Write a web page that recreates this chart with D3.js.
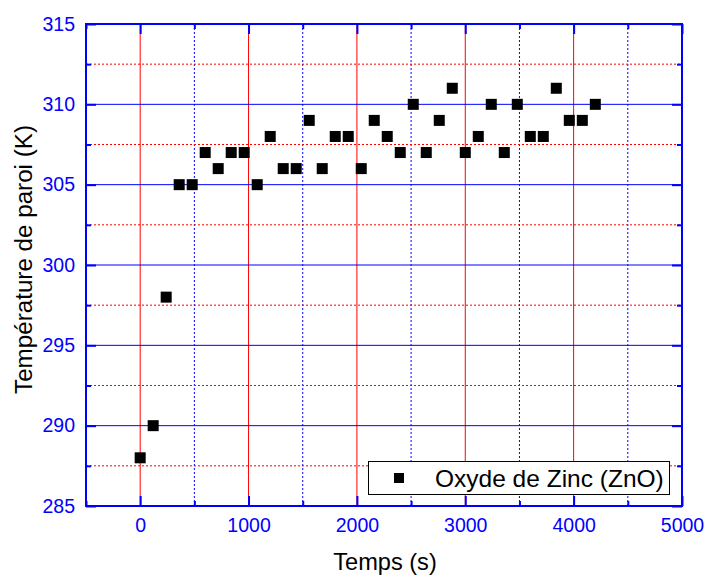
<!DOCTYPE html>
<html>
<head>
<meta charset="utf-8">
<script src="https://cdn.jsdelivr.net/npm/d3@7"></script>
<style>
  html, body { margin: 0; padding: 0; background: #fff; }
  svg { display: block; font-family: "Liberation Sans", Arial, sans-serif; }
</style>
</head>
<body>
<svg id="chart" width="705" height="576"></svg>
<script>
// Wall temperature measurements over time
const times = [0, 120, 240, 360, 480, 600, 720, 840, 960, 1080, 1200, 1320, 1440, 1560, 1680, 1800, 1920, 2040,
               2160, 2280, 2400, 2520, 2640, 2760, 2880, 3000, 3120, 3240, 3360, 3480, 3600, 3720, 3840, 3960, 4080, 4200];
const temperatures = [288, 290, 298, 305, 305, 307, 306, 307, 307, 305, 308, 306, 306, 309, 306, 308, 308, 306,
                      309, 308, 307, 310, 307, 309, 311, 307, 308, 310, 307, 310, 308, 308, 311, 309, 309, 310];
const seriesName = "Oxyde de Zinc (ZnO)";
const xTicks = [0, 1000, 2000, 3000, 4000, 5000];
const xMinorTicks = [-500, 500, 1500, 2500, 3500, 4500];
const yTicks = [285, 290, 295, 300, 305, 310, 315];
const yMinorTicks = [287.5, 292.5, 297.5, 302.5, 307.5, 312.5];

(function () {
  const margin = { left: 86, top: 24, right: 705 - 682, bottom: 576 - 506 };
  const W = 705, H = 576;
  const svg = d3.select("#chart");
  const x = d3.scaleLinear().domain([-500, 5000]).range([margin.left, W - margin.right]);
  const y = d3.scaleLinear().domain([285, 315]).range([H - margin.bottom, margin.top]);
  const axisColor = "#0000ff";
  const dotted = "2,2";

  // grid
  const grid = svg.append("g");
  grid.selectAll(".xmaj").data(xTicks.filter(d => d > -500 && d < 5000)).join("line")
    .attr("x1", d => x(d)).attr("x2", d => x(d)).attr("y1", y(285)).attr("y2", y(315))
    .attr("stroke", "#ff0000").attr("stroke-width", 1);
  grid.selectAll(".xmin").data(xMinorTicks.filter(d => d > -500 && d < 5000)).join("line")
    .attr("x1", d => x(d)).attr("x2", d => x(d)).attr("y1", y(285)).attr("y2", y(315))
    .attr("stroke", "#0000ff").attr("stroke-width", 1).attr("stroke-dasharray", dotted);
  grid.selectAll(".ymaj").data(yTicks.filter(d => d > 285 && d < 315)).join("line")
    .attr("x1", x(-500)).attr("x2", x(5000)).attr("y1", d => y(d)).attr("y2", d => y(d))
    .attr("stroke", "#0000ff").attr("stroke-width", 1);
  grid.selectAll(".ymin").data(yMinorTicks).join("line")
    .attr("x1", x(-500)).attr("x2", x(5000)).attr("y1", d => y(d)).attr("y2", d => y(d))
    .attr("stroke", "#ff0000").attr("stroke-width", 1).attr("stroke-dasharray", dotted);

  // axes (ticks pointing inward on all four sides)
  function styleAxis(g) {
    g.select(".domain").remove();
    g.selectAll("line").attr("stroke", axisColor).attr("stroke-width", 2);
    g.selectAll("text").attr("fill", axisColor).attr("font-size", 19.5)
      .attr("font-family", "Liberation Sans, Arial, sans-serif");
  }
  function addAxis(axis, tx, ty) {
    const g = svg.append("g").attr("transform", `translate(${tx},${ty})`).call(axis);
    styleAxis(g);
    return g;
  }
  addAxis(d3.axisBottom(x).tickValues(xTicks).tickFormat(d3.format("d")).tickSizeInner(-10).tickPadding(12), 0, y(285));
  addAxis(d3.axisBottom(x).tickValues(xMinorTicks).tickFormat("").tickSizeInner(-5), 0, y(285));
  addAxis(d3.axisTop(x).tickValues(xTicks).tickFormat("").tickSizeInner(-10), 0, y(315));
  addAxis(d3.axisTop(x).tickValues(xMinorTicks).tickFormat("").tickSizeInner(-5), 0, y(315));
  addAxis(d3.axisLeft(y).tickValues(yTicks).tickFormat(d3.format("d")).tickSizeInner(-10).tickPadding(11), x(-500), 0);
  addAxis(d3.axisLeft(y).tickValues(yMinorTicks).tickFormat("").tickSizeInner(-5), x(-500), 0);
  addAxis(d3.axisRight(y).tickValues(yTicks).tickFormat("").tickSizeInner(-10), x(5000), 0);
  addAxis(d3.axisRight(y).tickValues(yMinorTicks).tickFormat("").tickSizeInner(-5), x(5000), 0);

  // frame
  svg.append("rect").attr("x", x(-500)).attr("y", y(315))
    .attr("width", x(5000) - x(-500)).attr("height", y(285) - y(315))
    .attr("fill", "none").attr("stroke", axisColor).attr("stroke-width", 2);

  // data markers
  const sz = 11;
  svg.append("g").selectAll("rect").data(times.map((t, i) => [t, temperatures[i]])).join("rect")
    .attr("x", d => x(d[0]) - sz / 2).attr("y", d => y(d[1]) - sz / 2)
    .attr("width", sz).attr("height", sz).attr("fill", "#000");

  // legend
  const lg = svg.append("g");
  lg.append("rect").attr("x", 368.5).attr("y", 461.5).attr("width", 301).attr("height", 33)
    .attr("fill", "#fff").attr("stroke", "#000").attr("stroke-width", 1);
  lg.append("rect").attr("x", 399 - 5).attr("y", 478 - 5).attr("width", 10).attr("height", 10).attr("fill", "#000");
  lg.append("text").attr("x", 435).attr("y", 486.5).attr("font-size", 24.5).attr("fill", "#000").text(seriesName);

  // axis titles
  svg.append("text").attr("x", 385).attr("y", 570).attr("text-anchor", "middle")
    .attr("font-size", 23.6).attr("fill", "#000").text("Temps (s)");
  svg.append("text").attr("transform", "translate(32,259.5) rotate(-90)")
    .attr("text-anchor", "middle").attr("font-size", 24.2).attr("fill", "#000").text("Température de paroi (K)");
})();
</script>
</body>
</html>
